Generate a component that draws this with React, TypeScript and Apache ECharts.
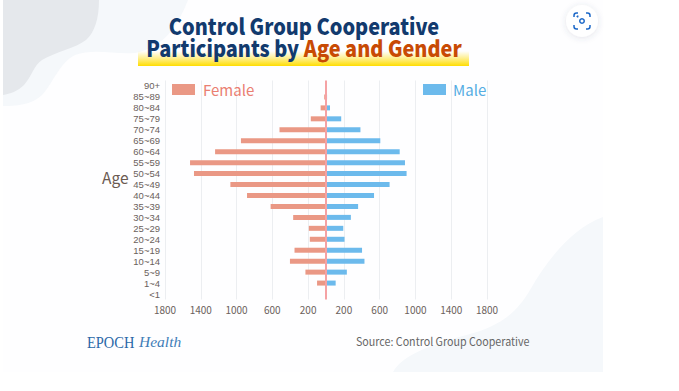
import React, { useEffect, useRef } from "react";
import * as echarts from "echarts";

const ageGroups = ["90+","85~89","80~84","75~79","70~74","65~69","60~64","55~59","50~54","45~49","40~44","35~39","30~34","25~29","20~24","15~19","10~14","5~9","1~4","<1"];
const femaleValues = [5,20,60,170,520,951,1240,1520,1476,1069,883,619,367,192,181,352,403,230,100,3];
const maleValues = [5,12,45,170,385,607,824,883,901,711,537,359,278,193,207,403,430,233,108,8];
const tickLabels = ["1800","1400","1000","600","200","200","600","1000","1400","1800"];

const CJK = '"Noto Sans CJK SC", "Noto Sans", sans-serif';
const SERIF = '"Liberation Serif", serif';

echarts.graphic.registerShape("blobGray", echarts.graphic.extendPath("M3 0 L99 0 C99 18 95 32 86 40 C76 48 55 52 42 60 C34 65 32 76 24 85 C18 91 10 94 3 95 Z" as any, {} as any) as any);
echarts.graphic.registerShape("blobLight", echarts.graphic.extendPath("M3 0 L188 0 C178 25 165 47 135 53 C115 55 95 48 75 55 C60 62 52 85 42 95 C32 105 15 106 3 106 Z" as any, {} as any) as any);
echarts.graphic.registerShape("blobBottom", echarts.graphic.extendPath("M603 217 C575 227 550 255 530 290 C518 310 505 322 480 331 C450 340 405 350 393 372 L603 372 Z" as any, {} as any) as any);
echarts.graphic.registerShape("lensIcon", echarts.graphic.extendPath("M574 17 L574 15.5 C574 14 575 13 576.5 13 L578 13 M586 13 L587.5 13 C589 13 590 14 590 15.5 L590 17 M590 25 L590 26.5 C590 28 589 29 587.5 29 L586 29 M578 29 L576.5 29 C575 29 574 28 574 26.5 L574 25" as any, {} as any) as any);

export default function App() {
  const ref = useRef<HTMLDivElement>(null);
  useEffect(() => {
    document.body.style.margin = "0";
    const chart = echarts.init(ref.current!, undefined, { renderer: "svg" });
    chart.setOption({
      animation: false,
      backgroundColor: "#ffffff",
      legend: [
        {
          data: ["Female"], left: 172, top: 82, padding: 0, itemWidth: 23, itemHeight: 11,
          icon: "rect", selectedMode: false,
          textStyle: { color: "#ea7f72", fontSize: 15, fontFamily: CJK, padding: [0, 0, 0, 3] },
        },
        {
          data: ["Male"], left: 423, top: 82, padding: 0, itemWidth: 23, itemHeight: 11,
          icon: "rect", selectedMode: false,
          textStyle: { color: "#55ade3", fontSize: 15, fontFamily: CJK, padding: [0, 0, 0, 2] },
        },
      ],
      grid: { left: 165, width: 322, top: 80.5, height: 219 },
      xAxis: [
        { type: "value", min: -1800, max: 1800, show: false, splitLine: { show: false } },
        {
          type: "category",
          data: tickLabels,
          position: "bottom",
          boundaryGap: false,
          axisLine: { show: false },
          axisTick: { show: false },
          axisLabel: { interval: 0, color: "#6b615c", fontSize: 10, fontFamily: CJK, margin: 5 },
          splitLine: { show: true, interval: 0, lineStyle: { color: "#eceef1", width: 1 } },
        },
      ],
      yAxis: {
        type: "category",
        inverse: true,
        data: ageGroups,
        axisLine: { show: false, onZero: false },
        axisTick: { show: false },
        axisLabel: { interval: 0, color: "#6b615c", fontSize: 9.5, lineHeight: 10, fontFamily: '"Liberation Sans", sans-serif', margin: 5 },
        splitLine: { show: false },
      },
      series: [
        {
          name: "Female", type: "bar", xAxisIndex: 0,
          data: femaleValues.map((v) => -v),
          barWidth: 5, barGap: "-100%",
          itemStyle: { color: "#ea9885" },
          markLine: {
            silent: true, symbol: "none", label: { show: false }, z: 10,
            lineStyle: { color: "#f5a2a4", width: 2, type: "solid" },
            data: [{ xAxis: 0 }],
          },
        },
        {
          name: "Male", type: "bar", xAxisIndex: 0,
          data: maleValues,
          barWidth: 5, barGap: "-100%",
          itemStyle: { color: "#6cbaec" },
        },
      ],
      graphic: [
        { type: "rect", z: -10, shape: { x: 3, y: 0, width: 600, height: 372 }, style: { fill: "#fefeff" } },
        { type: "blobLight", z: -9, style: { fill: "#f5f8fb" } },
        { type: "blobGray", z: -8, style: { fill: "#e5e8ec" } },
        { type: "blobBottom", z: -9, style: { fill: "#f5f8fb" } },
        {
          type: "rect", z: -5, shape: { x: 138, y: 51, width: 331, height: 15 },
          style: { fill: new echarts.graphic.LinearGradient(0, 0, 0, 1, [
            { offset: 0, color: "rgba(255,225,40,0)" },
            { offset: 1, color: "#ffdd00" },
          ]) },
        },
        {
          type: "text", z: 5, x: 304, y: 15, scaleX: 0.905,
          style: {
            text: "{a|Control Group Cooperative}\n{a|Participants by }{b|Age and Gender}",
            align: "center", verticalAlign: "top",
            rich: {
              a: { fontFamily: CJK, fontWeight: 900, fontSize: 22, lineHeight: 22, fill: "#123a6e", color: "#123a6e" },
              b: { fontFamily: CJK, fontWeight: 900, fontSize: 22, lineHeight: 22, fill: "#c84a04", color: "#c84a04" },
            },
          },
        },
        { type: "text", x: 102, y: 169, style: { text: "Age", fill: "#6b5a52", fontSize: 15.5, fontFamily: CJK } },
        { type: "text", x: 87, y: 334, scaleX: 0.85, style: { text: "EPOCH", fill: "#2a68a8", fontSize: 17, fontFamily: SERIF } },
        { type: "text", x: 139, y: 333, style: { text: "Health", fill: "#3f7db8", fontSize: 15.5, fontStyle: "italic", fontFamily: SERIF } },
        { type: "text", x: 356, y: 335, scaleX: 0.93, style: { text: "Source: Control Group Cooperative", fill: "#666666", fontSize: 11.5, fontFamily: CJK } },
        {
          type: "circle", z: 1, shape: { cx: 582, cy: 21, r: 16 },
          style: { fill: "#ffffff", shadowBlur: 6, shadowColor: "rgba(60,80,110,0.15)", shadowOffsetY: 1 },
        },
        { type: "lensIcon", z: 2, style: { fill: "none", stroke: "#1c68c8", lineWidth: 1.5 } },
        { type: "ring", z: 2, shape: { cx: 582, cy: 21, r: 3, r0: 1.5 }, style: { fill: "#1c68c8" } },
        { type: "circle", z: 2, shape: { cx: 577.5, cy: 16.5, r: 1 }, style: { fill: "#1c68c8" } },
      ],
    });
    return () => chart.dispose();
  }, []);
  return <div ref={ref} style={{ width: 679, height: 391 }} />;
}
